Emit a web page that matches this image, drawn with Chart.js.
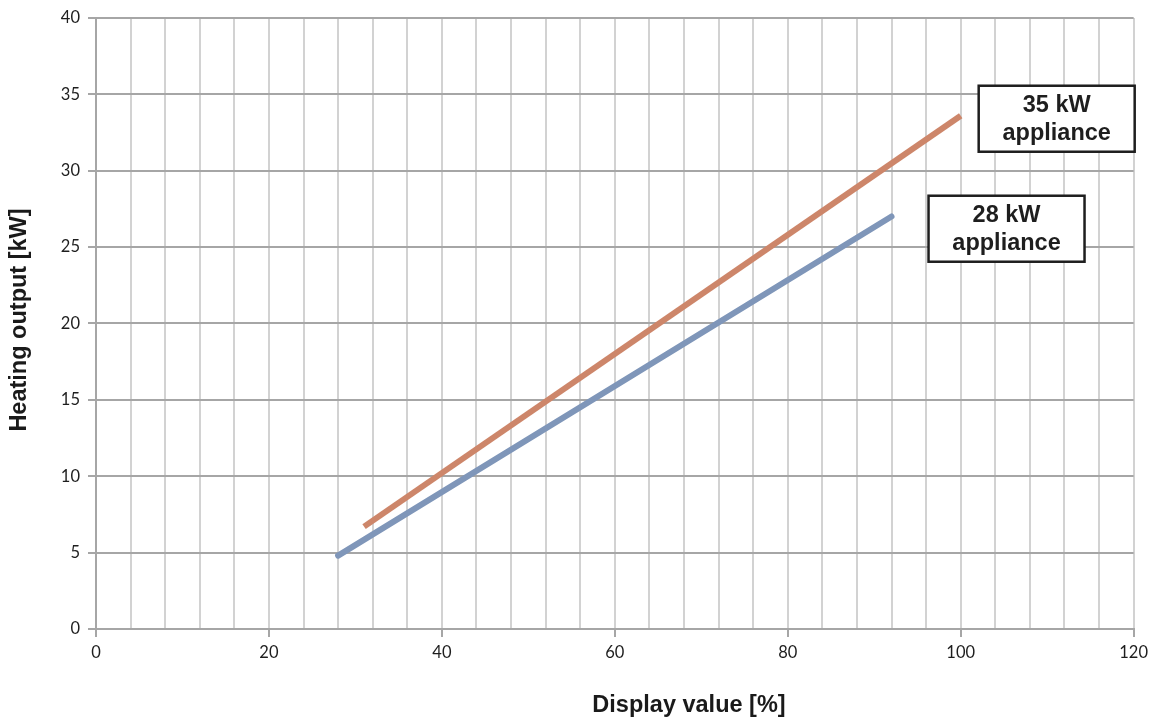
<!DOCTYPE html>
<html>
<head>
<meta charset="utf-8">
<script src="https://cdn.jsdelivr.net/npm/chart.js@4/dist/chart.umd.min.js"></script>
<style>
  html, body { margin: 0; padding: 0; background: #fff; }
  #wrap { width: 1154px; height: 722px; position: relative; }
</style>
</head>
<body>
<div id="wrap"><canvas id="c" width="1154" height="722"></canvas></div>
<script>
// ---- Data ----
const series35X = [31, 100];
const series35Y = [6.7, 33.6];
const series28X = [28, 92];
const series28Y = [4.8, 27];
const xTickLabels = [0, 20, 40, 60, 80, 100, 120];
const yTickLabels = [0, 5, 10, 15, 20, 25, 30, 35, 40];
const xTitle = 'Display value [%]';
const yTitle = 'Heating output [kW]';
const labelTexts = [['35 kW', 'appliance'], ['28 kW', 'appliance']];
const labelAnchorX = [111.1, 105.3];
const labelAnchorY = [33.4, 26.2];

const toPoints = (xs, ys) => xs.map((x, i) => ({ x: x, y: ys[i] }));

const TITLE_FONT = 'bold 23.5px "Liberation Sans", Arial, sans-serif';

const labelPlugin = {
  id: 'labels',
  afterDraw(chart) {
    const ctx = chart.ctx;
    const xs = chart.scales.x, ys = chart.scales.y;
    ctx.save();
    // annotation boxes
    labelTexts.forEach((lines, i) => {
      const cx = xs.getPixelForValue(labelAnchorX[i]);
      const cy = ys.getPixelForValue(labelAnchorY[i]);
      const w = 156, h = 66;
      ctx.fillStyle = '#fff';
      ctx.fillRect(cx - w / 2, cy - h / 2, w, h);
      ctx.strokeStyle = '#1e1e1e';
      ctx.lineWidth = 2.5;
      ctx.strokeRect(cx - w / 2, cy - h / 2, w, h);
      ctx.fillStyle = '#1e1e1e';
      ctx.font = TITLE_FONT;
      ctx.textAlign = 'center';
      ctx.textBaseline = 'middle';
      ctx.fillText(lines[0], cx, cy - 13);
      ctx.fillText(lines[1], cx, cy + 15);
    });
    // axis titles
    ctx.fillStyle = '#1a1a1a';
    ctx.font = TITLE_FONT;
    ctx.textAlign = 'center';
    ctx.textBaseline = 'middle';
    ctx.fillText(xTitle, 689, 706);
    ctx.translate(20, 320);
    ctx.rotate(-Math.PI / 2);
    ctx.fillText(yTitle, 0, 0);
    ctx.restore();
  }
};

new Chart(document.getElementById('c'), {
  type: 'scatter',
  data: {
    datasets: [
      {
        label: '35 kW appliance',
        data: toPoints(series35X, series35Y),
        showLine: true,
        borderColor: '#cd866a',
        backgroundColor: '#cd866a',
        borderWidth: 6,
        pointRadius: 0,
        borderCapStyle: 'butt'
      },
      {
        label: '28 kW appliance',
        data: toPoints(series28X, series28Y),
        showLine: true,
        borderColor: '#7f96b9',
        backgroundColor: '#7f96b9',
        borderWidth: 6,
        pointRadius: 0,
        borderCapStyle: 'round'
      }
    ]
  },
  options: {
    responsive: false,
    animation: false,
    events: [],
    layout: { padding: { left: 0, right: 18, top: 17, bottom: 0 } },
    plugins: { legend: { display: false }, tooltip: { enabled: false } },
    scales: {
      x: {
        type: 'linear',
        min: 0, max: 120,
        afterFit(s) { s.height = 93; },
        ticks: {
          stepSize: 4,
          autoSkip: false,
          maxRotation: 0,
          padding: 6,
          color: '#1e1e1e',
          font: { family: 'Lato, "Open Sans", sans-serif', size: 16.5 },
          callback: (v) => xTickLabels.includes(v) ? String(v) : ''
        },
        grid: {
          color: '#d2d2d2',
          lineWidth: 2,
          tickLength: 8,
          tickColor: (c) => (c.tick && xTickLabels.includes(c.tick.value)) ? '#a6a6a6' : 'rgba(0,0,0,0)'
        },
        border: { color: '#a6a6a6', width: 2 }
      },
      y: {
        type: 'linear',
        min: 0, max: 40,
        afterFit(s) { s.width = 96; },
        ticks: {
          stepSize: 5,
          padding: 8,
          color: '#1e1e1e',
          font: { family: 'Lato, "Open Sans", sans-serif', size: 16.5 },
          callback: (v) => yTickLabels.includes(v) ? String(v) : ''
        },
        grid: {
          color: '#a6a6a6',
          lineWidth: 2,
          tickLength: 8,
          tickColor: '#a6a6a6'
        },
        border: { color: '#a6a6a6', width: 2 }
      }
    }
  },
  plugins: [labelPlugin]
});
</script>
</body>
</html>
